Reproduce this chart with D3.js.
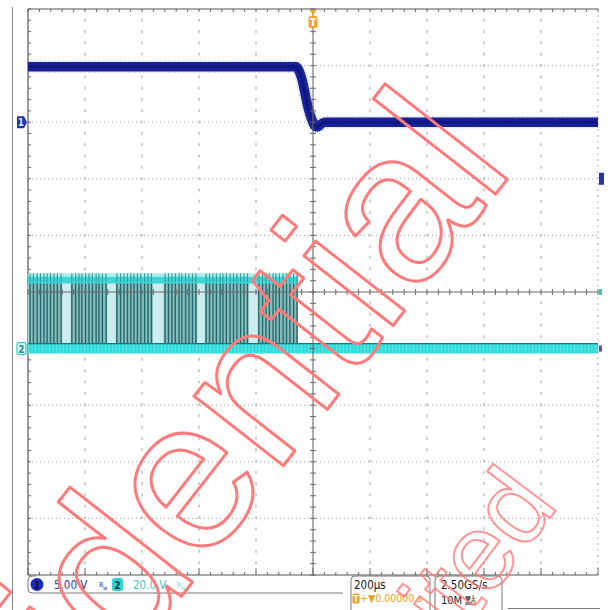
<!DOCTYPE html>
<html>
<head>
<meta charset="utf-8">
<script src="https://cdn.jsdelivr.net/npm/d3@7"></script>
<style>
  html, body { margin: 0; padding: 0; background: #ffffff; }
  svg { display: block; }
</style>
</head>
<body>
<svg id="scope" width="608" height="610"></svg>
<script>
// ---- Acquisition settings ----
const timePerDiv = 200;          // µs / div
const ch1VoltsPerDiv = 5;        // V / div
const ch2VoltsPerDiv = 20;       // V / div
const ch1OffsetDiv = 3;          // ground marker, divisions above centre
const ch2OffsetDiv = -1;         // ground marker, divisions below centre

// ---- Channel 1: supply rail collapsing at the trigger (µs, V) ----
const ch1Time = [-1000, -58, -50, -40, -30, -21, -12, -5, 2, 9, 16, 24, 34, 46, 1000];
const ch1Volt = [4.9, 4.9, 4.6, 3.9, 2.8, 1.7, 0.8, 0.3, -0.15, -0.4, -0.42, -0.25, -0.08, 0.0, 0.0];

// ---- Channel 2: switching bursts (µs) and pulse amplitude (V) ----
const ch2High = 24.2;
const ch2EnvelopeEnd = -53;
const ch2BurstStart = [-998, -850, -692, -524, -380, -194];
const ch2BurstEnd   = [-880, -722, -562, -406, -226, -53];
const ch2Pulses = [
  -993, -981, -968, -956, -944, -933, -921, -909, -897, -884,
  -846, -833, -821, -811, -798, -786, -774, -761, -751, -739, -726,
  -688, -675, -663, -651, -639, -628, -616, -604, -591, -579, -567,
  -519, -507, -495, -483, -470, -460, -447, -435, -423, -411,
  -375, -363, -351, -339, -326, -316, -304, -291, -279, -267, -254, -242, -230,
  -190, -177, -165, -153, -140, -130, -118, -105, -93, -81, -68, -56
];

// ---- Status bar text ----
const ch1Label = "5.00 V";
const ch2Label = "20.0 V";
const horizLabel = "200µs";
const trigLabel = "+▼0.00000 s";
const rateLabel = "2.50GS/s";
const recLabel = "10M 點";

// ---- Graticule ----
const divX = [-5, -4, -3, -2, -1, 0, 1, 2, 3, 4, 5];
const divY = [-5, -4, -3, -2, -1, 0, 1, 2, 3, 4, 5];

const svg = d3.select("#scope");
const L = 28, R = 598, T = 9, B = 575;
const cx = (L + R) / 2, cy = (T + B) / 2;

const x = d3.scaleLinear().domain([-5 * timePerDiv, 5 * timePerDiv]).range([L, R]);
const gx = d3.scaleLinear().domain([-5, 5]).range([L, R]);
const gy = d3.scaleLinear().domain([-5, 5]).range([B, T]);
const y1 = d3.scaleLinear()
  .domain([(-5 - ch1OffsetDiv) * ch1VoltsPerDiv, (5 - ch1OffsetDiv) * ch1VoltsPerDiv])
  .range([B, T]);
const y2 = d3.scaleLinear()
  .domain([(-5 - ch2OffsetDiv) * ch2VoltsPerDiv, (5 - ch2OffsetDiv) * ch2VoltsPerDiv])
  .range([B, T]);

// outer frame line on the left
svg.append("line").attr("x1", 12.5).attr("x2", 12.5).attr("y1", 7).attr("y2", 610)
  .attr("stroke", "#8a8a8a").attr("stroke-width", 1);

const grid = svg.append("g");
// dotted division lines
grid.selectAll("line.h").data(divY.filter(d => Math.abs(d) < 5 && d !== 0)).join("line")
  .attr("x1", L).attr("x2", R).attr("y1", d => gy(d)).attr("y2", d => gy(d))
  .attr("stroke", "#a0a0a0").attr("stroke-width", 1).attr("stroke-dasharray", "1,3");
grid.selectAll("line.v").data(divX.filter(d => Math.abs(d) < 5 && d !== 0)).join("line")
  .attr("x1", d => gx(d)).attr("x2", d => gx(d)).attr("y1", T).attr("y2", B)
  .attr("stroke", "#a0a0a0").attr("stroke-width", 1).attr("stroke-dasharray", "3,8.3")
  .attr("stroke-dashoffset", 1.5);
// right edge (dotted)
grid.append("line").attr("x1", R).attr("x2", R).attr("y1", T).attr("y2", B)
  .attr("stroke", "#aaaaaa").attr("stroke-dasharray", "2,4");
// solid top, left and bottom borders
grid.append("line").attr("x1", L).attr("x2", R).attr("y1", T).attr("y2", T)
  .attr("stroke", "#555").attr("stroke-width", 1.2);
grid.append("line").attr("x1", L).attr("x2", L).attr("y1", T).attr("y2", B)
  .attr("stroke", "#555").attr("stroke-width", 1.2);
grid.append("line").attr("x1", L).attr("x2", R).attr("y1", B).attr("y2", B)
  .attr("stroke", "#555").attr("stroke-width", 1.2);

const minorX = d3.range(-5, 5.001, 0.2);
const minorY = d3.range(-5, 5.001, 0.2);
// border ticks
grid.selectAll("line.tt").data(minorX).join("line")
  .attr("x1", d => gx(d)).attr("x2", d => gx(d)).attr("y1", T).attr("y2", T + 3)
  .attr("stroke", "#666");
grid.selectAll("line.bt").data(minorX).join("line")
  .attr("x1", d => gx(d)).attr("x2", d => gx(d))
  .attr("y1", B).attr("y2", d => Math.abs(d - Math.round(d)) < 1e-6 ? B - 7 : B - 3)
  .attr("stroke", "#666");
grid.selectAll("line.lt").data(minorY).join("line")
  .attr("x1", L).attr("x2", L + 3).attr("y1", d => gy(d)).attr("y2", d => gy(d))
  .attr("stroke", "#666");

// ---- Channel 2 ----
const ch2 = svg.append("g");
ch2.append("rect")
  .attr("x", x(-5 * timePerDiv)).attr("width", x(ch2EnvelopeEnd) - x(-5 * timePerDiv))
  .attr("y", y2(ch2High)).attr("height", y2(0) - y2(ch2High))
  .attr("fill", "#cdeeee");
ch2.selectAll("rect.burst").data(ch2BurstStart).join("rect")
  .attr("x", (d, i) => x(d)).attr("width", (d, i) => x(ch2BurstEnd[i]) - x(d))
  .attr("y", y2(ch2High)).attr("height", y2(0) - y2(ch2High))
  .attr("fill", "#8ebdbd");
ch2.selectAll("line.pulse").data(ch2Pulses).join("line")
  .attr("x1", d => x(d)).attr("x2", d => x(d))
  .attr("y1", y2(ch2High) - 6).attr("y2", y2(0) - 3)
  .attr("stroke", "#1d6a6c").attr("stroke-width", 1.4);
// top level band of the pulse train
const flatLine = d3.line().x(d => x(d[0])).y(d => y2(d[1]));
ch2.append("path")
  .datum([[-5 * timePerDiv, ch2High], [ch2EnvelopeEnd, ch2High]])
  .attr("d", flatLine).attr("stroke", "#3ed6d6").attr("stroke-width", 7).attr("fill", "none");
ch2.append("path")
  .datum([[-5 * timePerDiv, ch2High], [ch2EnvelopeEnd, ch2High]])
  .attr("d", flatLine).attr("transform", "translate(0,-5)")
  .attr("stroke", "#a6eeee").attr("stroke-width", 3).attr("fill", "none");
ch2.selectAll("line.spk").data(ch2Pulses).join("line")
  .attr("x1", d => x(d)).attr("x2", d => x(d))
  .attr("y1", y2(ch2High) - 7).attr("y2", y2(ch2High) + 2)
  .attr("stroke", "#2a9a9c").attr("stroke-width", 1);
// baseline band
const baseData = [[-5 * timePerDiv, 0], [5 * timePerDiv, 0]];
ch2.append("path").datum(baseData).attr("d", flatLine)
  .attr("stroke", "#2edcdc").attr("stroke-width", 10).attr("fill", "none");
ch2.append("path").datum(baseData).attr("d", flatLine)
  .attr("stroke", "#7fe9e9").attr("stroke-width", 11).attr("fill", "none")
  .attr("stroke-dasharray", "1,2.5").attr("opacity", 0.6);
ch2.append("path").datum(baseData).attr("d", flatLine).attr("transform", "translate(0,-5)")
  .attr("stroke", "#1f7474").attr("stroke-width", 1.4).attr("fill", "none");

// ---- Channel 1 ----
const ch1Pts = ch1Time.map((t, i) => [t, ch1Volt[i]]);
const ch1Line = d3.line().x(d => x(d[0])).y(d => y1(d[1])).curve(d3.curveMonotoneX);
svg.append("path").datum(ch1Pts).attr("d", ch1Line)
  .attr("stroke", "#1b2aa4").attr("stroke-width", 12.5).attr("fill", "none")
  .attr("stroke-dasharray", "0.6,1.9").attr("opacity", 0.4);
svg.append("path").datum(ch1Pts).attr("d", ch1Line)
  .attr("stroke", "#17219a").attr("stroke-width", 9.5).attr("fill", "none")
  .attr("stroke-linejoin", "round");
svg.append("path").datum(ch1Pts).attr("d", ch1Line)
  .attr("stroke", "#0f1680").attr("stroke-width", 3).attr("fill", "none")
  .attr("stroke-linejoin", "round");

// ---- centre crosshair with minor ticks ----
const cross = svg.append("g").attr("stroke", "#6a6a6a");
cross.append("line").attr("x1", cx).attr("x2", cx).attr("y1", T).attr("y2", B).attr("stroke-width", 1.1);
cross.append("line").attr("x1", L).attr("x2", R).attr("y1", cy).attr("y2", cy).attr("stroke-width", 1.1);
cross.selectAll("line.vt").data(minorY).join("line")
  .attr("x1", cx - 3).attr("x2", cx + 3).attr("y1", d => gy(d)).attr("y2", d => gy(d));
cross.selectAll("line.ht").data(minorX).join("line")
  .attr("x1", d => gx(d)).attr("x2", d => gx(d)).attr("y1", cy - 3).attr("y2", cy + 3);

// ---- markers ----
// trigger position at top
const tg = svg.append("g");
tg.append("path").attr("d", `M${cx - 3.5},${T + 1} L${cx + 3.5},${T + 1} L${cx},${T + 6} Z`).attr("fill", "#f0a126");
tg.append("rect").attr("x", cx - 4.5).attr("y", T + 7).attr("width", 9).attr("height", 12).attr("rx", 2)
  .attr("fill", "#f3a531");
tg.append("text").attr("x", cx).attr("y", T + 17).attr("text-anchor", "middle")
  .attr("font-family", "DejaVu Sans Condensed, sans-serif").attr("font-size", 10).attr("font-weight", "bold")
  .attr("fill", "#ffffff").text("T");
// channel ground markers
svg.append("path").attr("d", `M17,${y1(0) - 6} L24,${y1(0) - 6} L27,${y1(0)} L24,${y1(0) + 6} L17,${y1(0) + 6} Z`)
  .attr("fill", "#2233aa");
svg.append("text").attr("x", 21).attr("y", y1(0) + 4).attr("text-anchor", "middle")
  .attr("font-family", "DejaVu Sans Condensed, sans-serif").attr("font-size", 10).attr("font-weight", "bold")
  .attr("fill", "#dfe6ff").text("1");
svg.append("rect").attr("x", 17).attr("y", y2(0) - 6).attr("width", 9).attr("height", 12).attr("rx", 2)
  .attr("fill", "#d8f6f6").attr("stroke", "#3cc8c8").attr("stroke-width", 1.2);
svg.append("text").attr("x", 21.5).attr("y", y2(0) + 4).attr("text-anchor", "middle")
  .attr("font-family", "DejaVu Sans Condensed, sans-serif").attr("font-size", 10).attr("font-weight", "bold")
  .attr("fill", "#238f8f").text("2");
// trigger level arrows at right edge
svg.append("path").attr("d", `M${R + 1},${gy(2) - 6} L${R + 6},${gy(2) - 6} L${R + 6},${gy(2) + 6} L${R + 1},${gy(2) + 6} Z`)
  .attr("fill", "#2233aa");
svg.append("rect").attr("x", R + 1).attr("y", cy - 3).attr("width", 3).attr("height", 6).attr("fill", "#3cc8c8");
svg.append("rect").attr("x", R + 1).attr("y", y2(0) - 3).attr("width", 3).attr("height", 6).attr("fill", "#6a4aa8");

// ---- status bar ----
const sb = svg.append("g").attr("font-family", "DejaVu Sans Condensed, Liberation Sans Narrow, sans-serif");
sb.append("path").attr("d", `M343,593 L32,593 Q28,593 28,589 L28,580 Q28,576 32,576 L36,576`)
  .attr("fill", "none").attr("stroke", "#777").attr("stroke-width", 1);
sb.append("circle").attr("cx", 37).attr("cy", 584.5).attr("r", 6.5).attr("fill", "#1b2bc0");
sb.append("text").attr("x", 37).attr("y", 588.5).attr("text-anchor", "middle").attr("font-size", 10)
  .attr("font-weight", "bold").attr("fill", "#0b0b40").text("1");
sb.append("text").attr("x", 54).attr("y", 589).attr("font-size", 11.5).attr("fill", "#2a36a8").text(ch1Label);
sb.append("text").attr("x", 99).attr("y", 587).attr("font-size", 7).attr("fill", "#3340b0").text("B");
sb.append("text").attr("x", 103).attr("y", 590).attr("font-size", 6).attr("fill", "#3340b0").text("w");
sb.append("rect").attr("x", 112).attr("y", 578).attr("width", 11).attr("height", 13).attr("rx", 2.5).attr("fill", "#32d2d2");
sb.append("text").attr("x", 117.5).attr("y", 588.5).attr("text-anchor", "middle").attr("font-size", 10)
  .attr("font-weight", "bold").attr("fill", "#0a3a3a").text("2");
sb.append("text").attr("x", 133).attr("y", 589).attr("font-size", 11.5).attr("fill", "#40c4c4").text(ch2Label);
sb.append("text").attr("x", 177).attr("y", 587).attr("font-size", 7).attr("fill", "#8adede").text("B");
sb.append("text").attr("x", 181).attr("y", 590).attr("font-size", 6).attr("fill", "#8adede").text("w");

// horizontal box
sb.append("path").attr("d", `M351,612 L351,580 Q351,576 355,576 L426,576 Q430,576 430,580 L430,612`)
  .attr("fill", "none").attr("stroke", "#777");
sb.append("text").attr("x", 354).attr("y", 589).attr("font-size", 11.5).attr("fill", "#1a1a1a").text(horizLabel);
sb.append("rect").attr("x", 352.5).attr("y", 593.5).attr("width", 7).attr("height", 10).attr("rx", 1.5).attr("fill", "#f0a030");
sb.append("text").attr("x", 356).attr("y", 602).attr("text-anchor", "middle").attr("font-size", 8)
  .attr("font-weight", "bold").attr("fill", "#ffffff").text("T");
sb.append("text").attr("x", 360).attr("y", 602).attr("font-size", 10.5).attr("fill", "#f0a020").text(trigLabel);

// acquisition box
sb.append("path").attr("d", `M435,612 L435,580 Q435,576 439,576 L498,576 Q502,576 502,580 L502,612`)
  .attr("fill", "none").attr("stroke", "#777");
sb.append("text").attr("x", 441).attr("y", 589).attr("font-size", 11.5).attr("fill", "#1a1a1a").text(rateLabel);
sb.append("text").attr("x", 441).attr("y", 604).attr("font-size", 11).attr("fill", "#1a1a1a").text(recLabel);
sb.append("line").attr("x1", 508).attr("x2", 600).attr("y1", 608.5).attr("y2", 608.5).attr("stroke", "#777");

// ---- watermark ----
const wm = svg.append("g").attr("fill", "none").attr("stroke", "#ff7b7b")
  .attr("stroke-linejoin", "round").attr("font-family", "Liberation Sans, Arial, sans-serif");
wm.append("text").attr("transform", "translate(516,168) rotate(-52)")
  .attr("text-anchor", "end").attr("font-size", 214).attr("stroke-width", 3).text("Confidential");
wm.append("text").attr("transform", "translate(560,505) rotate(-53)")
  .attr("text-anchor", "end").attr("font-size", 108).attr("stroke-width", 2).attr("stroke-opacity", 0.8).text("Limited");
</script>
</body>
</html>
